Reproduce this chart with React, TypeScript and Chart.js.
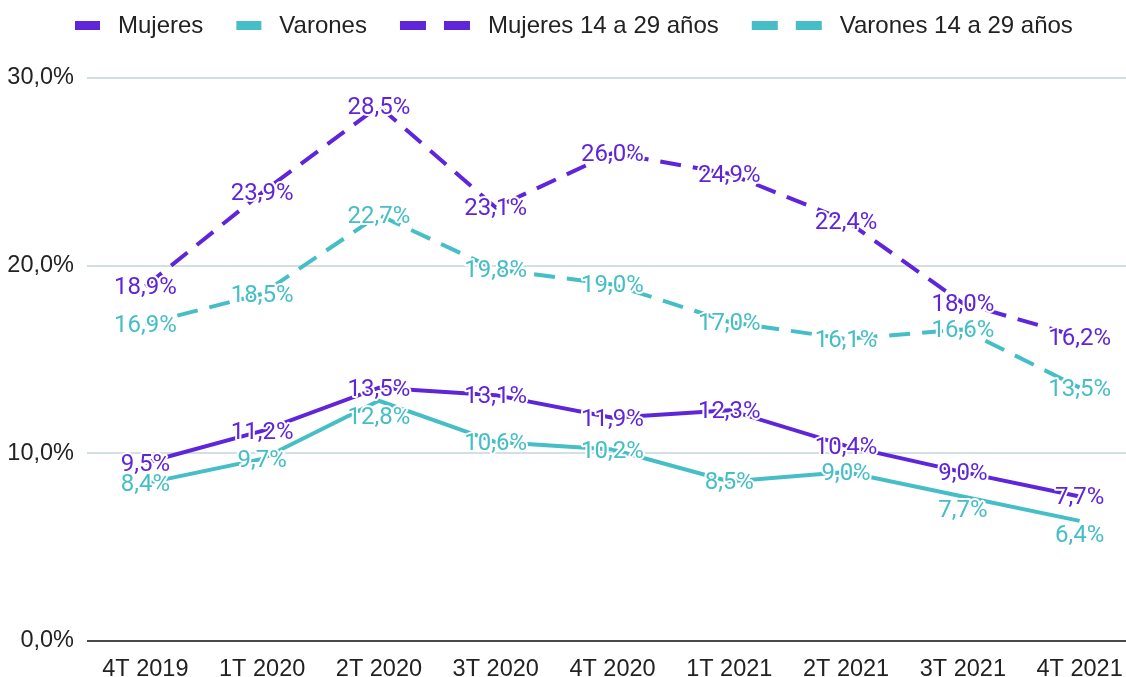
import React, { useEffect, useRef } from "react";
import { Chart, registerables } from "chart.js";

Chart.register(...registerables);

const categories = ["4T 2019", "1T 2020", "2T 2020", "3T 2020", "4T 2020", "1T 2021", "2T 2021", "3T 2021", "4T 2021"];
const mujeres = [9.5, 11.2, 13.5, 13.1, 11.9, 12.3, 10.4, 9.0, 7.7];
const varones = [8.4, 9.7, 12.8, 10.6, 10.2, 8.5, 9.0, 7.7, 6.4];
const mujeresJovenes = [18.9, 23.9, 28.5, 23.1, 26.0, 24.9, 22.4, 18.0, 16.2];
const varonesJovenes = [16.9, 18.5, 22.7, 19.8, 19.0, 17.0, 16.1, 16.6, 13.5];
const seriesLabels = ["Mujeres", "Varones", "Mujeres 14 a 29 años", "Varones 14 a 29 años"];
const yTicks = [0, 10, 20, 30];

// Label nudges (style): value labels pushed below the line where they would collide
const labelNudge: Record<string, Record<string, number>> = {
  Varones: { "2T 2020": 15, "3T 2021": 13, "4T 2021": 13 },
};

const PURPLE = "#5f25d8";
const TEAL = "#46bec6";
const TEXT = "#222222";
const SANS = "'Liberation Sans', Arial, sans-serif";
const LABEL_FONT = "24px Roboto, 'Noto Sans', sans-serif";

const fmt = (v: number) => v.toFixed(1).replace(".", ",") + "%";

const dataLabelPlugin = {
  id: "dataLabels",
  afterDatasetsDraw(chart: any) {
    const ctx = chart.ctx;
    ctx.save();
    ctx.font = LABEL_FONT;
    ctx.textAlign = "center";
    ctx.textBaseline = "middle";
    ctx.lineJoin = "round";
    chart.data.datasets.forEach((ds: any, i: number) => {
      const meta = chart.getDatasetMeta(i);
      meta.data.forEach((pt: any, j: number) => {
        const txt = fmt(ds.data[j]);
        const nudge = (labelNudge[ds.label] && labelNudge[ds.label][categories[j]]) || 0;
        const y = pt.y + 2 + nudge;
        ctx.lineWidth = 4;
        ctx.strokeStyle = "#ffffff";
        ctx.strokeText(txt, pt.x, y);
        ctx.fillStyle = ds.borderColor;
        ctx.fillText(txt, pt.x, y);
      });
    });
    ctx.restore();
  },
};

const legendPlugin = {
  id: "customLegend",
  afterDraw(chart: any) {
    const ctx = chart.ctx;
    ctx.save();
    ctx.font = "24px " + SANS;
    ctx.textBaseline = "middle";
    ctx.textAlign = "left";
    const y = 25.5;
    let x = 75;
    chart.data.datasets.forEach((ds: any) => {
      ctx.fillStyle = ds.borderColor;
      const dashed = !!(ds.borderDash && ds.borderDash.length);
      if (dashed) {
        ctx.fillRect(x, y - 4.5, 26, 9);
        ctx.fillRect(x + 44, y - 4.5, 26, 9);
        x += 70;
      } else {
        ctx.fillRect(x, y - 4.5, 25, 9);
        x += 25;
      }
      x += 18;
      ctx.fillStyle = TEXT;
      ctx.fillText(ds.label, x, y + 1);
      x += ctx.measureText(ds.label).width + 33;
    });
    ctx.restore();
  },
};

export default function App() {
  const ref = useRef<HTMLCanvasElement | null>(null);
  useEffect(() => {
    if (!ref.current) return;
    const mk = (label: string, data: number[], color: string, dashed: boolean) => ({
      label,
      data,
      borderColor: color,
      backgroundColor: color,
      borderWidth: 4,
      borderDash: dashed ? [21, 12] : [],
      pointRadius: 0,
      pointHoverRadius: 0,
      tension: 0,
      fill: false,
    });
    const chart = new Chart(ref.current, {
      type: "line",
      data: {
        labels: categories,
        datasets: [
          mk(seriesLabels[0], mujeres, PURPLE, false),
          mk(seriesLabels[1], varones, TEAL, false),
          mk(seriesLabels[2], mujeresJovenes, PURPLE, true),
          mk(seriesLabels[3], varonesJovenes, TEAL, true),
        ],
      },
      options: {
        animation: false,
        responsive: false,
        layout: { padding: { top: 78, right: 2, left: 0, bottom: 0 } },
        plugins: { legend: { display: false }, tooltip: { enabled: false } },
        scales: {
          x: {
            offset: true,
            grid: { display: false },
            border: { display: false },
            ticks: { color: TEXT, font: { size: 23.5, family: SANS }, padding: 6, maxRotation: 0, autoSkip: false },
            afterFit: (s: any) => { s.height = 36; },
          },
          y: {
            min: yTicks[0],
            max: yTicks[yTicks.length - 1],
            afterBuildTicks: (s: any) => { s.ticks = yTicks.map((v) => ({ value: v })); },
            border: { display: false },
            grid: {
              drawTicks: false,
              color: (c: any) => (c.tick && c.tick.value === 0 ? "#4a4a4a" : "#d3dfe3"),
              lineWidth: 2,
            },
            ticks: {
              color: TEXT,
              font: { size: 23.5, family: SANS },
              padding: 13,
              callback: (v: any) => fmt(Number(v)),
            },
            afterFit: (s: any) => { s.width = 87; },
          },
        },
      },
      plugins: [dataLabelPlugin, legendPlugin],
    });
    return () => chart.destroy();
  }, []);
  return (
    <div style={{ position: "fixed", left: 0, top: 0, width: 1126, height: 677, overflow: "hidden", background: "#fff" }}>
      <canvas ref={ref} width={1140} height={677} style={{ display: "block" }} />
    </div>
  );
}
